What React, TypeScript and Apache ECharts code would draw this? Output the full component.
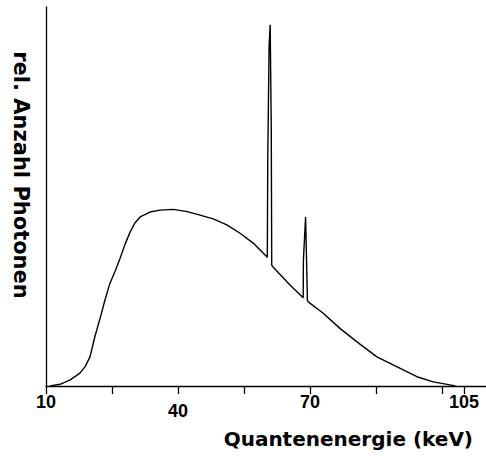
import React, { useEffect, useRef } from "react";
import * as echarts from "echarts";

// Photon energy (keV) and relative photon count (arbitrary units, 0..100)
const energies: number[] = [
  10.9, 13.2, 15.5, 17.7, 18.9, 20.0, 21.1, 22.3, 23.4, 24.5, 25.7, 26.8, 28.0,
  29.1, 30.2, 31.4, 33.6, 35.9, 38.9, 42.1, 45.0, 48.0, 51.1, 54.1, 57.1, 60.3,
  60.4, 60.7, 60.95, 61.2, 61.3, 61.6, 65.5, 68.45, 68.5, 68.85, 69.0, 69.3,
  69.4, 69.6, 73.0, 76.8, 80.6, 85.2, 89.7, 94.3, 98.0, 101.8, 103.0,
];
const counts: number[] = [
  0, 0.45, 1.6, 3.4, 5.1, 7.7, 13.0, 17.9, 22.7, 27.0, 30.3, 33.6, 37.5, 40.6,
  43.0, 44.6, 45.9, 46.4, 46.6, 46.0, 45.1, 44.1, 42.5, 40.3, 37.7, 34.0, 59.6,
  89.4, 95.3, 67.5, 31.9, 31.4, 26.6, 23.3, 33.2, 41.2, 44.6, 28.8, 22.7, 22.2,
  19.2, 15.2, 11.7, 7.7, 5.1, 2.45, 1.1, 0.3, 0,
];

const tickValues: number[] = [10, 25, 40, 55, 70, 85, 100, 105];
const labelValues: number[] = [10, 40, 70, 105];

const xAxisName = "Quantenenergie (keV)";
const yAxisName = "rel. Anzahl Photonen";

export default function App() {
  const ref = useRef<HTMLDivElement>(null);
  useEffect(() => {
    if (!ref.current) return;
    const chart = echarts.init(ref.current, undefined, { renderer: "svg" });
    const font = "'Liberation Sans', Arial, sans-serif";
    const nameFont = "'DejaVu Sans', sans-serif";
    chart.setOption({
      animation: false,
      backgroundColor: "#ffffff",
      grid: { left: 46, top: 7, right: 0, bottom: 73 },
      xAxis: {
        type: "value",
        min: 10,
        max: 110,
        axisLine: { show: true, lineStyle: { color: "#000", width: 1.3 } },
        axisTick: {
          show: true,
          customValues: tickValues,
          length: 8,
          lineStyle: { color: "#000", width: 1.3 },
        },
        axisLabel: {
          customValues: labelValues,
          color: "#000",
          fontFamily: font,
          fontWeight: "bold",
          fontSize: 18,
          margin: 7,
          formatter: (v: number) => (v === 40 ? "{d|40}" : "{a|" + v + "}"),
          rich: {
            a: { fontFamily: font, fontWeight: "bold", fontSize: 18, color: "#000" },
            d: {
              fontFamily: font,
              fontWeight: "bold",
              fontSize: 18,
              color: "#000",
              padding: [9, 0, 0, 0],
            },
          },
        },
        splitLine: { show: false },
      },
      yAxis: {
        type: "value",
        min: 0,
        max: 100,
        axisLine: { show: true, lineStyle: { color: "#000", width: 1.3 } },
        axisTick: { show: false },
        axisLabel: { show: false },
        splitLine: { show: false },
      },
      graphic: [
        {
          type: "text",
          x: 473,
          y: 439,
          style: {
            text: xAxisName,
            fill: "#000",
            font: "bold 20px " + nameFont,
            textAlign: "right",
            textVerticalAlign: "middle",
          },
        },
        {
          type: "text",
          x: 21,
          y: 175,
          rotation: -Math.PI / 2,
          style: {
            text: yAxisName,
            fill: "#000",
            font: "bold 21px " + nameFont,
            textAlign: "center",
            textVerticalAlign: "middle",
          },
        },
      ],
      series: [
        {
          type: "line",
          data: energies.map((e, i) => [e, counts[i]]),
          showSymbol: false,
          smooth: false,
          lineStyle: { color: "#000", width: 1.4 },
        },
      ],
    });
    return () => chart.dispose();
  }, []);
  return (
    <div
      ref={ref}
      style={{ position: "absolute", left: 0, top: 0, width: 486, height: 459 }}
    />
  );
}
